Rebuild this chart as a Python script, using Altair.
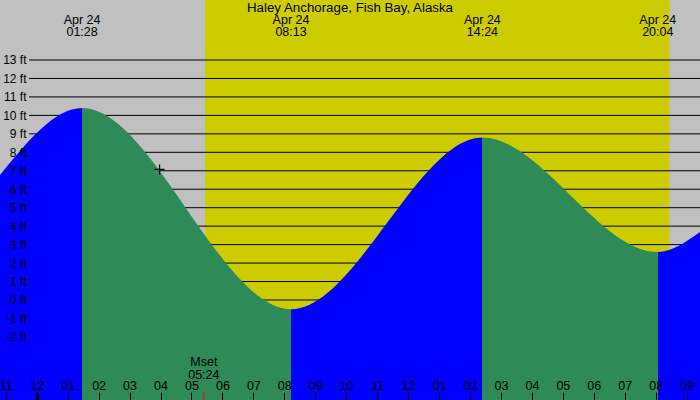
import altair as alt
import pandas as pd

# ---------------- data ----------------
TITLE = "Haley Anchorage, Fish Bay, Alaska"

# tide curve (hours since midnight Apr 24, feet)
tide_hours = [-1.186, 1.467, 8.217, 14.4, 20.067, 21.431]
tide_feet = [6.77, 10.4, -0.5, 8.8, 2.6, 3.68]

# high / low tide labels
extreme_hours = [1.467, 8.217, 14.4, 20.067]
extreme_dates = ["Apr 24", "Apr 24", "Apr 24", "Apr 24"]
extreme_times = ["01:28", "08:13", "14:24", "20:04"]

# sunrise / sunset
sun_rise = [5.437]
sun_set = [20.44]

# moonset
moon_hours = [5.4]
moon_names = ["Mset"]
moon_times = ["05:24"]

# cursor cross
cursor_hours = [3.97]
cursor_feet = [7.07]

hour_ticks = list(range(-1, 22))
hour_labels = ["11", "12", "01", "02", "03", "04", "05", "06", "07", "08", "09", "10",
               "11", "12", "01", "02", "03", "04", "05", "06", "07", "08", "09"]
feet_ticks = list(range(-2, 14))

X_DOMAIN = [tide_hours[0], tide_hours[-1]]
Y_DOMAIN = [-5.417, 16.25]

# ---------------- styles ----------------
W, H = 700, 400
FONT = "Liberation Sans"
NIGHT = "#C0C0C0"
DAY = "#CCCC00"
RISING = "#0000FF"
FALLING = "#2E8B57"

xs = alt.Scale(domain=X_DOMAIN, nice=False, zero=False)
ys = alt.Scale(domain=Y_DOMAIN, nice=False, zero=False)

label_expr = "[" + ",".join(f"'{l}'" for l in hour_labels) + "][datum.value + 1]"

x_axis = alt.Axis(
    orient="top", offset=-H, domain=False, grid=False, title=None,
    values=hour_ticks, labelExpr=label_expr, tickSize=8, tickColor="black",
    tickWidth={"condition": {"test": "datum.value === 0", "value": 3}, "value": 1},
    labelPadding=0, labelFont=FONT, labelFontSize=12.5, labelColor="black",
    labelFlush=False, labelOverlap=False, zindex=1)
y_axis = alt.Axis(
    orient="left", offset=-28, domain=False, ticks=False, tickSize=0, grid=False,
    title=None, values=feet_ticks, labelExpr="datum.value + ' ft'",
    labelPadding=2, labelFont=FONT, labelFontSize=12, labelColor="black",
    labelOverlap=False, zindex=1)

tide_df = pd.DataFrame({"h": tide_hours, "ft": tide_feet})
ext_df = pd.DataFrame({"h": extreme_hours, "d": extreme_dates, "t": extreme_times})
sun_df = pd.DataFrame({"rise": sun_rise, "set": sun_set})
moon_df = pd.DataFrame({"h": moon_hours, "n": moon_names, "t": moon_times})
grid_df = pd.DataFrame({"ft": feet_ticks})
cur_df = pd.DataFrame({"h": cursor_hours, "ft": cursor_feet})

# gradient stops: blue while rising, green while falling
span = X_DOMAIN[1] - X_DOMAIN[0]
stops = []
for i in range(len(tide_hours) - 1):
    col = RISING if tide_feet[i + 1] > tide_feet[i] else FALLING
    stops.append(alt.GradientStop(color=col, offset=(tide_hours[i] - X_DOMAIN[0]) / span))
    stops.append(alt.GradientStop(color=col, offset=(tide_hours[i + 1] - X_DOMAIN[0]) / span))
grad = alt.Gradient(gradient="linear", stops=stops, x1=0, x2=1, y1=0, y2=0)

def X(f):
    return alt.X(f, scale=xs, axis=x_axis)

def Y(f):
    return alt.Y(f, scale=ys, axis=y_axis)

day = alt.Chart(sun_df).mark_rect(color=DAY).encode(
    x=X("rise:Q"),
    x2="set:Q",
    y=alt.datum(Y_DOMAIN[1], scale=ys, axis=y_axis),
    y2=alt.datum(Y_DOMAIN[0]),
)

grid = alt.Chart(grid_df).mark_rule(color="black", strokeWidth=1).encode(
    y=Y("ft:Q"),
    x=alt.value(29),
    x2=alt.value(W),
)

area = alt.Chart(tide_df).mark_area(color=grad, interpolate="monotone", opacity=1).encode(
    x=X("h:Q"),
    y=Y("ft:Q"),
    y2=alt.datum(Y_DOMAIN[0]),
)

txt = dict(font=FONT, fontSize=12.5, color="black", align="center", baseline="alphabetic")

ext_date = alt.Chart(ext_df).mark_text(**txt).encode(
    x=X("h:Q"), y=alt.value(24), text="d:N")
ext_time = alt.Chart(ext_df).mark_text(**txt).encode(
    x=X("h:Q"), y=alt.value(36), text="t:N")

title = alt.Chart(pd.DataFrame({"t": [TITLE]})).mark_text(
    font=FONT, fontSize=13.3, color="black", align="center", baseline="alphabetic").encode(
    x=alt.value(W / 2), y=alt.value(11.5), text="t:N")

moon_name = alt.Chart(moon_df).mark_text(**txt).encode(
    x=X("h:Q"), y=alt.value(366), text="n:N")
moon_time = alt.Chart(moon_df).mark_text(**txt).encode(
    x=X("h:Q"), y=alt.value(378.5), text="t:N")
moon_tick = alt.Chart(moon_df).mark_rule(color="red", strokeWidth=1).encode(
    x=X("h:Q"), y=alt.value(392), y2=alt.value(H))

cursor = alt.Chart(cur_df).mark_point(
    shape="M-1,0L1,0M0,-1L0,1", size=100, filled=False, color="black",
    strokeWidth=1.2, opacity=1).encode(
    x=X("h:Q"), y=Y("ft:Q"))

chart = alt.layer(
    day, grid, area, ext_date, ext_time, title, moon_name, moon_time, moon_tick, cursor
).properties(
    width=W, height=H, autosize="none", padding=0, background=NIGHT
).configure_view(stroke=None, fill=NIGHT)

chart.save("out.html", embed_options={"renderer": "svg", "actions": False})
